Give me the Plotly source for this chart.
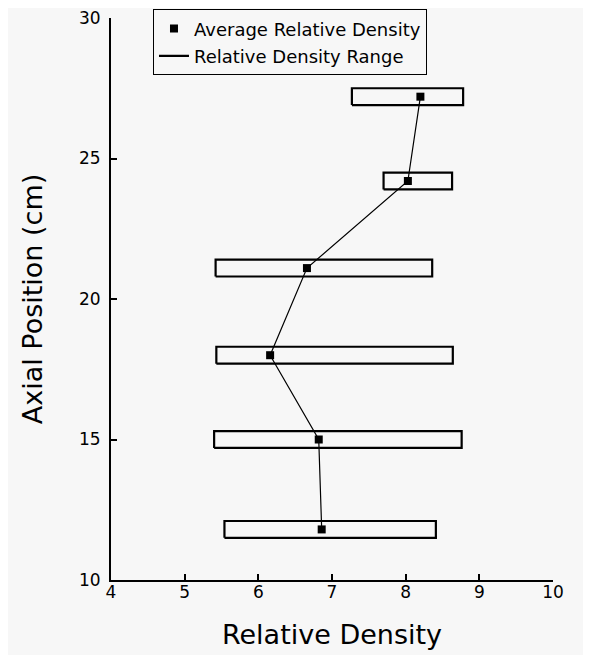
import plotly.graph_objects as go

# Data
axial_position = [11.8, 15.0, 18.0, 21.1, 24.2, 27.2]
avg_density = [6.86, 6.82, 6.16, 6.66, 8.03, 8.20]
min_density = [5.54, 5.40, 5.43, 5.42, 7.70, 7.27]
max_density = [8.41, 8.76, 8.64, 8.36, 8.63, 8.78]
x_ticks = [4, 5, 6, 7, 8, 9, 10]
y_ticks = [10, 15, 20, 25, 30]

BG = "#f7f7f7"
FONT = "DejaVu Sans"
half_h = 0.3  # half height of range boxes (style)

# Build closed rectangles for the range boxes
rx, ry = [], []
for y, lo, hi in zip(axial_position, min_density, max_density):
    rx += [lo, hi, hi, lo, lo, None]
    ry += [y - half_h, y - half_h, y + half_h, y + half_h, y - half_h, None]

fig = go.Figure()
fig.add_trace(go.Scatter(
    x=rx, y=ry, mode="lines", name="Relative Density Range",
    line=dict(color="black", width=2.2), legendrank=2, legendgroup="b",
))
fig.add_trace(go.Scatter(
    x=avg_density, y=axial_position, mode="lines",
    line=dict(color="black", width=1.2), showlegend=False,
))
fig.add_trace(go.Scatter(
    x=avg_density, y=axial_position, mode="markers",
    name="Average Relative Density", legendgroup="a",
    marker=dict(symbol="square", size=8, color="black"), legendrank=1,
))

axis_common = dict(
    showgrid=False, zeroline=False, showline=True, linecolor="black",
    linewidth=2, ticks="inside", ticklen=6, tickwidth=2, tickcolor="black",
    tickfont=dict(family=FONT, size=17, color="black"),
    ticklabeloverflow="allow",
)

# The page body adds an 8px offset; figure is sized to compensate.
fig.update_layout(
    width=583, height=647,
    margin=dict(l=103, r=38, t=10, b=75, autoexpand=False),
    paper_bgcolor=BG, plot_bgcolor=BG,
    font=dict(family=FONT, color="black"),
    xaxis=dict(range=[4, 10], tickvals=x_ticks, ticklabelstandoff=-4,
               title=dict(text="Relative Density", font=dict(family=FONT, size=27), standoff=24),
               **axis_common),
    yaxis=dict(range=[10, 30], tickvals=y_ticks, ticklabelstandoff=5,
               title=dict(text="Axial Position (cm)", font=dict(family=FONT, size=27), standoff=29),
               **axis_common),
    legend=dict(
        x=0.095, y=1.0155, xanchor="left", yanchor="top",
        bgcolor=BG, bordercolor="black", borderwidth=1,
        font=dict(family=FONT, size=18, color="black"),
        tracegroupgap=1, itemwidth=30,
    ),
    showlegend=True,
)

fig.write_html("out.html")
